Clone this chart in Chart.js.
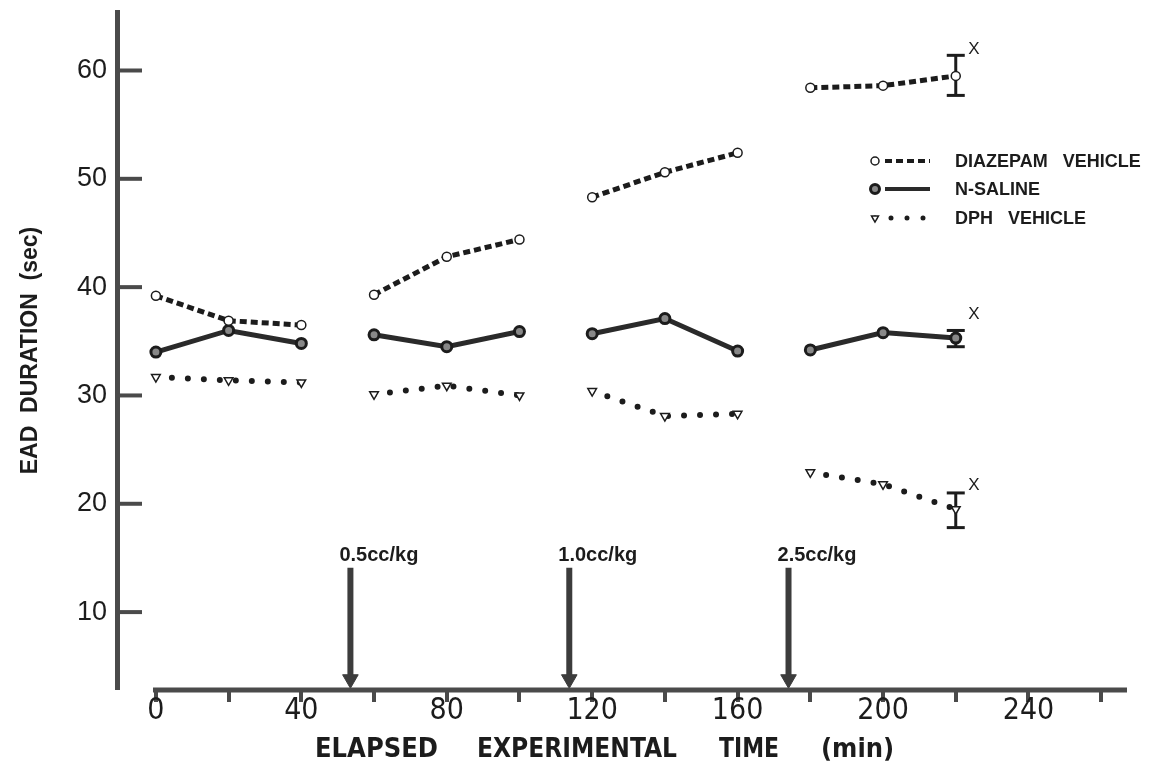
<!DOCTYPE html>
<html>
<head>
<meta charset="utf-8">
<script src="https://cdn.jsdelivr.net/npm/chart.js@4.4.1/dist/chart.umd.min.js"></script>
<style>
  html, body { margin: 0; padding: 0; background: #fff; }
  #wrap { width: 1164px; height: 775px; }
</style>
</head>
<body>
<div id="wrap"><canvas id="chart" width="1164" height="775"></canvas></div>
<script>
// sampling times (min) and the three curves
const times = [0, 20, 40, 60, 80, 100, 120, 140, 160, 180, 200, 220];
const diazepamVehicle = [39.2, 36.9, 36.5, 39.3, 42.8, 44.4, 48.3, 50.6, 52.4, 58.4, 58.6, 59.5];
const nSaline = [34.0, 36.0, 34.8, 35.6, 34.5, 35.9, 35.7, 37.1, 34.1, 34.2, 35.8, 35.3];
const dphVehicle = [31.7, 31.4, 31.2, 30.1, 30.9, 30.0, 30.4, 28.1, 28.3, 22.9, 21.8, 19.5];

// error bars at the last time point [low, high]
const errTime = 220;
const diazepamErr = [57.7, 61.4];
const salineErr = [34.5, 36.0];
const dphErr = [17.8, 21.0];

// "X" marks next to the error bars
const xMarkTime = 225;
const xMarkValues = [62.0, 37.5, 21.7];

// dose arrows
const doseTimes = [53.5, 113.7, 174];
const doseLabels = ["0.5cc/kg", "1.0cc/kg", "2.5cc/kg"];
const arrowTop = 14.1;
const arrowHead = 3.8;
const doseLabelValue = 15.2;

// axes
const xTicks = [0, 20, 40, 60, 80, 100, 120, 140, 160, 180, 200, 220, 240, 260];
const xTickLabels = ["0", "40", "80", "120", "160", "200", "240"];
const yTicks = [10, 20, 30, 40, 50, 60];
const yTickLabels = ["10", "20", "30", "40", "50", "60"];
const yTitle = "EAD  DURATION  (sec)";
const xTitleWords = ["ELAPSED", "EXPERIMENTAL", "TIME", "(min)"];

const legendLabels = ["DIAZEPAM   VEHICLE", "N-SALINE", "DPH   VEHICLE"];

const INK = "#1c1c1c";
const AXIS = "#4a4a4a";

// break the curves between dosing blocks (3 points each)
function withGaps(vals) {
  const pts = [];
  times.forEach((t, i) => {
    pts.push({ x: t, y: vals[i] });
    if (i % 3 === 2 && i < times.length - 1) pts.push({ x: t + 10, y: null });
  });
  return pts;
}

const seriesSets = [
  {
    label: legendLabels[0],
    data: withGaps(diazepamVehicle),
    borderColor: INK,
    borderWidth: 5,
    borderDash: [7, 4],
    pointStyle: "circle",
    pointRadius: 4.5,
    pointBorderWidth: 1.5,
    pointBorderColor: INK,
    pointBackgroundColor: "#fff",
    spanGaps: false
  },
  {
    label: legendLabels[1],
    data: withGaps(nSaline),
    borderColor: "#2a2a2a",
    borderWidth: 5,
    pointStyle: "circle",
    pointRadius: 5,
    pointBorderWidth: 3,
    pointBorderColor: INK,
    pointBackgroundColor: "#888",
    spanGaps: false
  },
  {
    label: legendLabels[2],
    data: withGaps(dphVehicle),
    borderColor: INK,
    borderWidth: 6,
    borderDash: [0, 16],
    borderCapStyle: "round",
    pointStyle: "triangle",
    pointRotation: 180,
    pointRadius: 5,
    pointBorderWidth: 1.5,
    pointBorderColor: INK,
    pointBackgroundColor: "#fff",
    spanGaps: false
  }
];

function errSet(lohi) {
  return {
    label: "_err",
    data: [{ x: errTime, y: lohi[0] }, { x: errTime, y: lohi[1] }],
    borderColor: INK,
    borderWidth: 3,
    pointStyle: "line",
    pointRadius: 9,
    pointBorderWidth: 3,
    pointBorderColor: INK
  };
}

const arrowSets = doseTimes.map(t => ({
  label: "_arrow",
  data: [{ x: t, y: arrowTop }, { x: t, y: arrowHead }],
  borderColor: "#3c3c3c",
  borderWidth: 6,
  pointStyle: "triangle",
  pointRotation: 180,
  pointRadius: [0, 9],
  pointBorderWidth: 1,
  pointBorderColor: "#3c3c3c",
  pointBackgroundColor: "#3c3c3c"
}));

const decor = {
  id: "decor",
  afterDraw(chart) {
    const { ctx, chartArea: area, scales: { x, y } } = chart;
    ctx.save();

    // x axis line (starts a bit right of the y axis, like the original)
    ctx.strokeStyle = AXIS;
    ctx.lineWidth = 5;
    ctx.beginPath();
    ctx.moveTo(x.getPixelForValue(-0.8), area.bottom + 1);
    ctx.lineTo(area.right, area.bottom + 1);
    ctx.stroke();

    // y ticks pointing inward
    ctx.lineWidth = 4;
    yTicks.forEach(v => {
      const py = y.getPixelForValue(v);
      ctx.beginPath();
      ctx.moveTo(area.left, py);
      ctx.lineTo(area.left + 25, py);
      ctx.stroke();
    });

    // x title, condensed words
    ctx.fillStyle = INK;
    ctx.textBaseline = "middle";
    ctx.textAlign = "left";
    ctx.font = "bold 27px 'Liberation Sans Narrow', 'DejaVu Sans Condensed', sans-serif";
    const wordX = [315, 477, 719, 821];
    const wordW = [125, 200, 60, 76];
    xTitleWords.forEach((w, i) => ctx.fillText(w, wordX[i], 750, wordW[i]));

    // dose labels
    ctx.font = "bold 20px 'Liberation Sans', sans-serif";
    doseTimes.forEach((t, i) => {
      ctx.fillText(doseLabels[i], x.getPixelForValue(t) - 11, y.getPixelForValue(doseLabelValue), 84);
    });

    // X marks
    ctx.font = "17px 'Liberation Sans', sans-serif";
    ctx.textAlign = "center";
    xMarkValues.forEach(v => ctx.fillText("X", x.getPixelForValue(xMarkTime), y.getPixelForValue(v)));

    // legend
    const rowsY = [161, 189, 218];
    const mx = 875;
    chart.data.datasets.slice(0, 3).forEach((ds, i) => {
      const ry = rowsY[i];
      ctx.strokeStyle = ds.borderColor;
      ctx.lineWidth = i === 2 ? 5 : 4;
      ctx.lineCap = ds.borderCapStyle || "butt";
      ctx.setLineDash(ds.borderDash || []);
      ctx.beginPath();
      ctx.moveTo(i === 2 ? 875 : 885, ry);
      ctx.lineTo(930, ry);
      ctx.stroke();
      ctx.setLineDash([]);
      ctx.fillStyle = ds.pointBackgroundColor;
      ctx.strokeStyle = ds.pointBorderColor;
      ctx.lineWidth = ds.pointBorderWidth;
      Chart.helpers.drawPoint(ctx, {
        pointStyle: ds.pointStyle,
        radius: i === 1 ? 4.5 : 4,
        rotation: ds.pointRotation || 0,
        borderWidth: ds.pointBorderWidth
      }, mx, ry);
      ctx.fillStyle = INK;
      ctx.textAlign = "left";
      ctx.font = "bold 18px 'Liberation Sans', sans-serif";
      ctx.fillText(ds.label, 955, ry + 1);
    });

    ctx.restore();
  }
};

new Chart(document.getElementById("chart"), {
  type: "line",
  data: {
    datasets: [...seriesSets, errSet(diazepamErr), errSet(salineErr), errSet(dphErr), ...arrowSets]
  },
  options: {
    responsive: false,
    animation: false,
    layout: { padding: { left: 0, top: 8, right: 37, bottom: 0 } },
    plugins: {
      legend: { display: false },
      tooltip: { enabled: false }
    },
    scales: {
      x: {
        type: "linear",
        min: -10.7,
        max: 267.1,
        afterBuildTicks: s => { s.ticks = xTicks.map(v => ({ value: v })); },
        afterFit: s => { s.height = 86; s.paddingLeft = 0; s.paddingRight = 0; },
        border: { display: false },
        grid: {
          display: true,
          drawOnChartArea: false,
          drawTicks: true,
          tickLength: 13,
          lineWidth: 4,
          color: AXIS
        },
        ticks: {
          autoSkip: false,
          maxRotation: 0,
          padding: -6,
          color: INK,
          font: { family: "'Liberation Sans Narrow', 'DejaVu Sans Condensed', sans-serif", size: 30, lineHeight: 1 },
          callback: v => (v % 40 === 0 && v <= 240) ? xTickLabels[v / 40] : ""
        }
      },
      y: {
        min: 2.9,
        max: 65.4,
        afterBuildTicks: s => { s.ticks = yTicks.map(v => ({ value: v })); },
        afterFit: s => { s.width = 117; s.paddingTop = 0; s.paddingBottom = 0; },
        border: { display: true, width: 5, color: AXIS },
        grid: { display: false, drawTicks: false },
        ticks: {
          padding: 10,
          color: INK,
          font: { family: "'Liberation Sans', sans-serif", size: 27 },
          callback: v => yTickLabels[yTicks.indexOf(v)]
        },
        title: {
          display: true,
          text: yTitle,
          color: INK,
          font: { family: "'Liberation Sans', sans-serif", size: 23, weight: "bold" },
          padding: { top: 17, bottom: 0 }
        }
      }
    }
  },
  plugins: [decor]
});
</script>
</body>
</html>
